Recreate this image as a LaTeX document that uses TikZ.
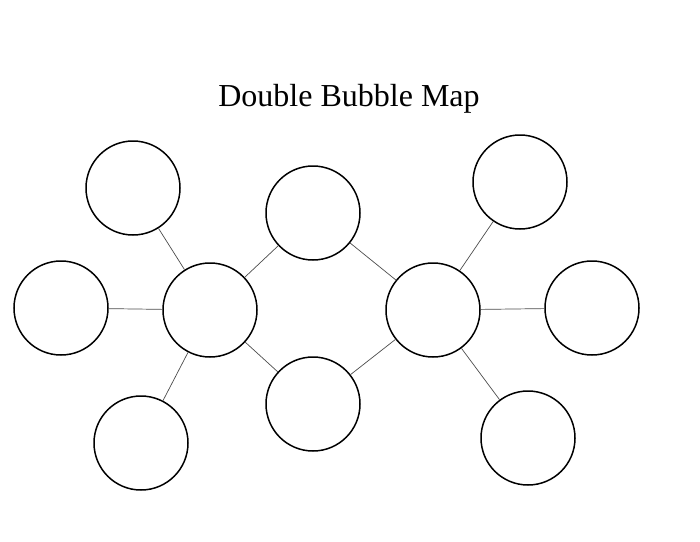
\documentclass[tikz,border=0pt]{standalone}
\usepackage{fontspec}
\setmainfont{Liberation Serif}
\begin{document}
\begin{tikzpicture}
[
    x=1pt, y=-1pt,
    bubble/.style={circle, draw=black, line width=1.5pt, minimum size=94pt, inner sep=0pt},
    link/.style={draw=black!70, line width=0.7pt},
]
\useasboundingbox (0,0) rectangle (700,541);
\node [font=\fontsize{32}{38}\selectfont] (title) at (349,99) {Double Bubble Map};
\node [bubble] (left) at (210,310) {};
\node [bubble] (right) at (433,310) {};
\node [bubble] (top) at (313,213) {};
\node [bubble] (bottom) at (313,404) {};
\node [bubble] (lt) at (133,188) {};
\node [bubble] (ll) at (61,308) {};
\node [bubble] (lb) at (141,443) {};
\node [bubble] (rt) at (520,182) {};
\node [bubble] (rr) at (592,308) {};
\node [bubble] (rb) at (528,438) {};
\foreach \a/\b in {left/top, left/bottom, right/top, right/bottom,
    left/lt, left/ll, left/lb, right/rt, right/rr, right/rb}
    \draw [link] (\a) -- (\b);
\end{tikzpicture}
\end{document}
